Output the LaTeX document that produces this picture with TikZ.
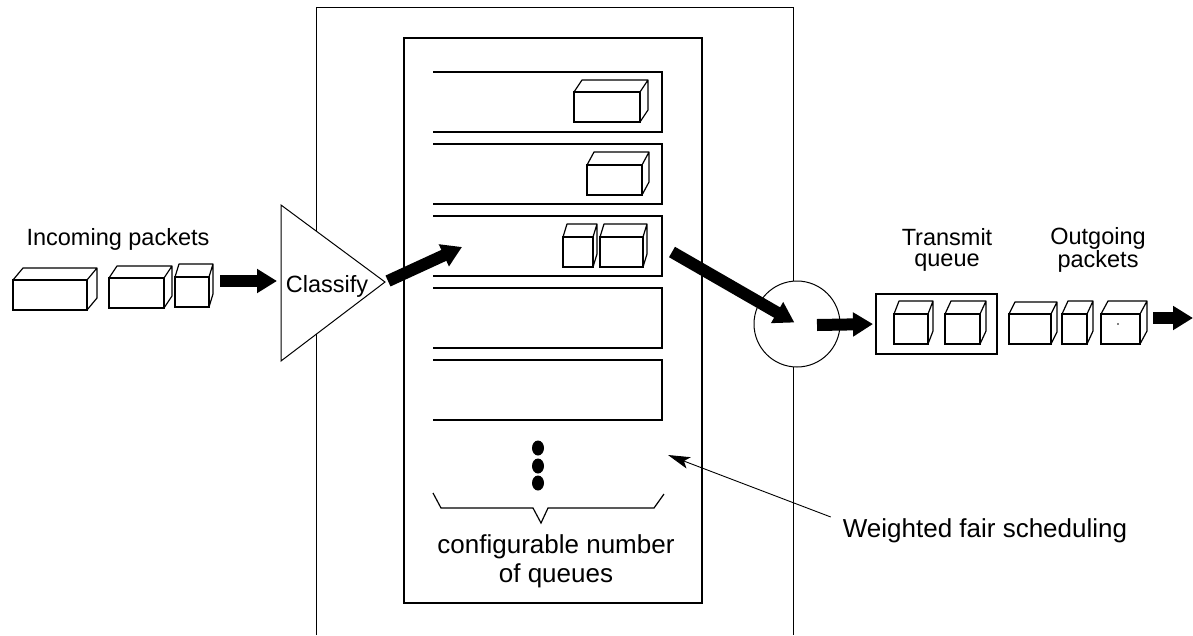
\documentclass[tikz,border=0pt]{standalone}
\usepackage{fontspec}
\setmainfont{Liberation Sans}
\usetikzlibrary{arrows.meta,calc,positioning}
\tikzset{
  pkt/.style={draw, line width=1.2pt, fill=white, inner sep=0pt, outer sep=0pt},
  slot/.style={inner sep=0pt, outer sep=0pt, minimum width=229pt, minimum height=60pt},
  fat/.style={line width=12pt, -{Triangle[length=20pt,width=23pt]}},
  pointer/.style={-{Stealth[length=22pt,width=12pt,inset=5pt]}, line width=0.9pt},
  lbl/.style={font=\fontsize{23.5}{20.5}\selectfont, align=center, inner sep=1pt},
  biglbl/.style={font=\fontsize{26}{29}\selectfont, align=center, inner sep=1pt},
}
% packet: name, left, top, width, height, depth x, depth y
\newcommand{\pkt}[7]{%
  \node[pkt, anchor=north west, minimum width=#4pt, minimum height=#5pt] (#1) at (#2,#3) {};
  \draw[line width=1.2pt, line join=round] (#1.north west) -- ++(#6,-#7) -- ++(#4,0) -- ++(0,#5) -- (#1.south east)
    (#1.north east) -- ++(#6,-#7);
}

\begin{document}
\begin{tikzpicture}[x=1pt, y=-1pt]
  \useasboundingbox (0,0) rectangle (1193,635);

  \draw[line width=1pt] (316,635) -- (316,7) -- (793,7) -- (793,635);
  \draw[line width=1.3pt] (404,38) rectangle (702,603);

  \foreach \i/\y in {1/72,2/144,3/216,4/288,5/360} {
    \node[slot, anchor=north west] (q\i) at (433,\y) {};
    \draw[line width=2.5pt] (q\i.north west) -- (q\i.north east) -- (q\i.south east) -- (q\i.south west);
  }
  \pkt{p1}{574}{92}{66}{30}{8}{12}
  \pkt{p2}{587}{165}{55}{30}{7}{13}
  \pkt{p3a}{563}{237}{30}{30}{4}{13}
  \pkt{p3b}{600}{237}{43}{30}{4}{13}

  \foreach \y in {448,466,483} \fill (538,\y) ellipse (6pt and 7.5pt);
  \draw[line width=1.2pt] (433,493) -- (441,508) -- (533,508) -- (541,523) -- (548,508) -- (654,508) -- (664,494);
  \node[biglbl] (nq) at (556,561) {configurable number\\of queues};

  \node[lbl, anchor=base] (inlbl) at (118,245) {Incoming packets};
  \pkt{in1}{13}{280}{74}{30}{10}{12}
  \pkt{in2}{109}{278}{55}{30}{8}{12}
  \pkt{in3}{175}{277}{34}{30}{4}{13}

  \coordinate (cl-top) at (281,205);
  \coordinate (cl-apex) at (385,282);
  \coordinate (cl-bot) at (281,361);
  \draw[line width=1pt, fill=white] (cl-top) -- (cl-apex) -- (cl-bot) -- cycle;
  \node[lbl, anchor=base] (classify) at (327,292) {Classify};

  \node[draw, circle, fill=white, line width=1pt, minimum size=86pt, inner sep=0pt] (sched) at (797,324) {};

  \node[draw, line width=1.2pt, minimum width=121pt, minimum height=60pt, inner sep=0pt, outer sep=0pt] (txq) at (936.5,324) {};
  \pkt{tq1}{894}{314}{34}{30}{5}{13}
  \pkt{tq2}{945}{314}{35}{30}{6}{13}
  \node[lbl] (txlbl) at (947,250) {Transmit\\queue};

  \pkt{o1}{1009}{314}{42}{30}{6}{12}
  \pkt{o2}{1062}{314}{25}{30}{6}{13}
  \pkt{o3}{1101}{314}{39}{30}{7}{13}
  \fill (1118,324) circle (0.8pt);
  \node[lbl] (outlbl) at (1098,250) {Outgoing\\packets};
  \coordinate (out) at (1193,318);

  \draw[fat] ($(in3.east)+(11,-11)$) -- ($(cl-top)!0.5!(cl-bot)+(-4,-2)$);
  \draw[fat] ($(cl-apex)+(3,-1)$) -- ($(q3.west)+(29,1)$);
  \draw[fat, shorten >=3pt] ($(q3.east)+(10,6)$) -- (sched.center);
  \draw[fat, shorten >=3pt] ($(sched.center)+(20,1)$) -- (txq.west);
  \draw[fat] ($(o3.east)+(13,-11)$) -- (out);

  \node[biglbl, anchor=base] (wfs) at (985,537) {Weighted fair scheduling};
  \coordinate (wfs-tip) at (668,455);
  \draw[pointer] ($(wfs.north west)+(-11,0)$) -- (wfs-tip);
\end{tikzpicture}
\end{document}
